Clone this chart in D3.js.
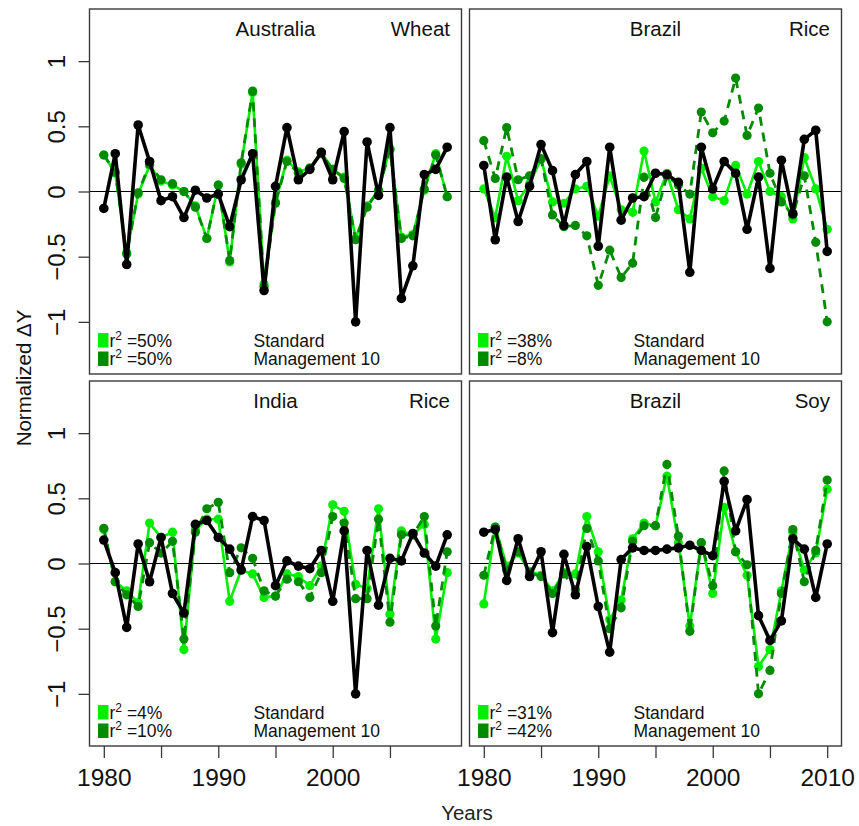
<!DOCTYPE html>
<html>
<head>
<meta charset="utf-8">
<script src="https://cdn.jsdelivr.net/npm/d3@7/dist/d3.min.js"></script>
<style>
  html, body { margin: 0; padding: 0; background: #fff; }
  svg { display: block; font-family: "Liberation Sans", Arial, sans-serif; }
</style>
</head>
<body>
<svg id="chart" width="859" height="826"></svg>
<script>
// Years covered by every series
const years = [1980, 1981, 1982, 1983, 1984, 1985, 1986, 1987, 1988, 1989,
               1990, 1991, 1992, 1993, 1994, 1995, 1996, 1997, 1998, 1999,
               2000, 2001, 2002, 2003, 2004, 2005, 2006, 2007, 2008, 2009, 2010];

// Australia – Wheat
const ausWheatObs  = [-0.13, 0.29, -0.56, 0.51, 0.23, -0.07, -0.04, -0.20, 0.01, -0.05, -0.02, -0.27, 0.09, 0.29, -0.76, 0.04, 0.49, 0.09, 0.17, 0.30, 0.09, 0.46, -1.00, 0.38, -0.03, 0.49, -0.82, -0.57, 0.13, 0.17, 0.34];
const ausWheatStd  = [0.28, 0.14, -0.47, -0.02, 0.20, 0.08, 0.05, 0.00, -0.11, -0.36, 0.05, -0.54, 0.21, 0.76, -0.71, -0.08, 0.24, 0.15, 0.18, 0.30, 0.17, 0.11, -0.36, -0.11, 0.01, 0.33, -0.35, -0.33, 0.01, 0.29, -0.04];
const ausWheatMgmt = [0.28, 0.15, -0.48, -0.01, 0.21, 0.09, 0.06, 0.00, -0.12, -0.36, 0.05, -0.53, 0.22, 0.77, -0.73, -0.09, 0.23, 0.14, 0.18, 0.29, 0.17, 0.10, -0.37, -0.12, 0.01, 0.32, -0.36, -0.34, 0.02, 0.28, -0.04];

// Brazil – Rice
const brRiceObs  = [0.20, -0.37, 0.11, -0.23, 0.04, 0.36, 0.16, -0.26, 0.13, 0.23, -0.42, 0.34, -0.22, -0.05, -0.04, 0.14, 0.13, 0.07, -0.62, 0.34, 0.02, 0.23, 0.14, -0.29, 0.11, -0.59, 0.24, -0.17, 0.40, 0.47, -0.46];
const brRiceStd  = [0.02, -0.20, 0.27, -0.07, 0.06, 0.25, -0.08, -0.09, 0.02, 0.04, -0.19, 0.12, -0.14, -0.16, 0.31, -0.08, 0.14, -0.14, -0.21, 0.18, -0.04, -0.07, 0.20, -0.02, 0.23, 0.00, -0.04, -0.21, 0.26, 0.02, -0.29];
const brRiceMgmt = [0.39, 0.10, 0.49, 0.09, 0.12, 0.25, -0.18, -0.27, -0.26, -0.34, -0.72, -0.45, -0.66, -0.55, 0.11, -0.20, 0.12, 0.05, -0.02, 0.61, 0.45, 0.54, 0.87, 0.43, 0.64, 0.14, -0.08, -0.18, 0.12, -0.39, -1.00];

// India – Rice
const inRiceObs  = [0.18, -0.07, -0.49, 0.15, -0.14, 0.20, -0.23, -0.38, 0.30, 0.33, 0.20, 0.11, -0.05, 0.36, 0.33, -0.17, 0.02, -0.02, -0.04, 0.10, -0.29, 0.25, -1.00, 0.10, -0.32, 0.04, 0.02, 0.23, 0.08, -0.02, 0.22];
const inRiceStd  = [0.26, -0.14, -0.21, -0.30, 0.31, 0.20, 0.24, -0.66, 0.26, 0.34, 0.34, -0.29, -0.05, -0.08, -0.26, -0.25, -0.08, -0.10, -0.17, -0.02, 0.45, 0.40, -0.16, -0.19, 0.42, -0.39, 0.25, 0.22, 0.30, -0.58, -0.07];
const inRiceMgmt = [0.27, -0.14, -0.24, -0.33, 0.16, 0.08, 0.17, -0.58, 0.24, 0.42, 0.47, -0.07, 0.12, 0.04, -0.21, -0.25, -0.12, -0.14, -0.26, -0.07, 0.36, 0.31, -0.27, -0.27, 0.34, -0.45, 0.22, 0.22, 0.36, -0.48, 0.09];

// Brazil – Soy
const brSoyObs  = [0.24, 0.26, -0.13, 0.19, -0.10, 0.09, -0.53, 0.07, -0.24, 0.13, -0.33, -0.68, 0.03, 0.12, 0.10, 0.10, 0.11, 0.12, 0.14, 0.10, 0.06, 0.63, 0.25, 0.49, -0.40, -0.59, -0.44, 0.19, 0.11, -0.26, 0.15];
const brSoyStd  = [-0.31, 0.28, -0.02, 0.08, -0.06, -0.09, -0.21, -0.07, -0.08, 0.36, 0.09, -0.43, -0.28, 0.19, 0.31, 0.29, 0.67, 0.16, -0.48, 0.16, -0.23, 0.43, 0.09, -0.09, -0.79, -0.66, -0.21, 0.24, -0.05, 0.08, 0.57];
const brSoyMgmt = [-0.09, 0.28, -0.05, 0.09, -0.07, -0.10, -0.23, -0.08, -0.20, 0.27, 0.02, -0.50, -0.34, 0.17, 0.29, 0.29, 0.76, 0.21, -0.52, 0.16, -0.17, 0.71, 0.09, -0.01, -1.00, -0.82, -0.23, 0.26, -0.14, 0.10, 0.64];

// Panel labels and fit statistics
const countries = ["Australia", "Brazil", "India", "Brazil"];
const crops     = ["Wheat", "Rice", "Rice", "Soy"];
const r2Std     = ["50%", "38%", "4%", "31%"];
const r2Mgmt    = ["50%", "8%", "10%", "42%"];
const seriesNames = ["Standard", "Management 10"];

// Axis ticks
const yTicks = [-1, -0.5, 0, 0.5, 1];
const xTicksLeft  = [1980, 1985, 1990, 1995, 2000, 2005];
const xTicksRight = [1980, 1985, 1990, 1995, 2000, 2005, 2010];
const xLabelYears = [1980, 1990, 2000, 2010];

const panels = [
  { obs: ausWheatObs, std: ausWheatStd, mgmt: ausWheatMgmt },
  { obs: brRiceObs,   std: brRiceStd,   mgmt: brRiceMgmt },
  { obs: inRiceObs,   std: inRiceStd,   mgmt: inRiceMgmt },
  { obs: brSoyObs,    std: brSoyStd,    mgmt: brSoyMgmt }
].map((p, i) => ({ ...p, country: countries[i], crop: crops[i], r2s: r2Std[i], r2m: r2Mgmt[i],
                   col: i % 2, row: Math.floor(i / 2) }));

const COL_LIGHT = "#00ee00";
const COL_DARK  = "#008b00";
const FONT = "'Liberation Sans', Arial, sans-serif";

const svg = d3.select("#chart");
svg.append("rect").attr("width", 859).attr("height", 826).attr("fill", "#fff");

const boxW = 372, boxH = 365;
const boxX = [89.5, 469.5];
const boxY = [9, 381];

const minus = s => String(s).replace("-", "\u2212");

panels.forEach(p => {
  const x0 = boxX[p.col], y0 = boxY[p.row];
  const x = d3.scaleLinear().domain([1978.75, 2011.25]).range([x0, x0 + boxW]);
  const y = d3.scaleLinear().domain([-1.4, 1.4]).range([y0 + boxH, y0]);
  const g = svg.append("g");

  // zero reference line
  g.append("line")
    .attr("x1", x0).attr("x2", x0 + boxW)
    .attr("y1", y(0)).attr("y2", y(0))
    .attr("stroke", "#000").attr("stroke-width", 1.1);

  const line = d3.line().x((d, i) => x(years[i])).y(d => y(d));

  const drawSeries = (vals, color, width, dash, r) => {
    g.append("path").datum(vals)
      .attr("d", line)
      .attr("fill", "none")
      .attr("stroke", color)
      .attr("stroke-width", width)
      .attr("stroke-linejoin", "round")
      .attr("stroke-dasharray", dash);
    g.selectAll(null).data(vals).enter().append("circle")
      .attr("cx", (d, i) => x(years[i]))
      .attr("cy", d => y(d))
      .attr("r", r)
      .attr("fill", color);
  };
  drawSeries(p.std, COL_LIGHT, 2.6, null, 4.6);
  drawSeries(p.mgmt, COL_DARK, 2.8, "9,7", 4.6);
  drawSeries(p.obs, "#000", 3.6, null, 4.8);

  // frame
  g.append("rect")
    .attr("x", x0).attr("y", y0).attr("width", boxW).attr("height", boxH)
    .attr("fill", "none").attr("stroke", "#3a3a3a").attr("stroke-width", 1.4);

  // titles
  g.append("text")
    .attr("x", x0 + boxW / 2).attr("y", y0 + 27)
    .attr("text-anchor", "middle")
    .attr("font-family", FONT).attr("font-size", 20.5).attr("fill", "#111")
    .text(p.country);
  g.append("text")
    .attr("x", x0 + boxW - 11.5).attr("y", y0 + 27)
    .attr("text-anchor", "end")
    .attr("font-family", FONT).attr("font-size", 20.5).attr("fill", "#111")
    .text(p.crop);

  // legend
  const legRows = [{ c: COL_LIGHT, v: p.r2s, n: seriesNames[0] },
                   { c: COL_DARK,  v: p.r2m, n: seriesNames[1] }];
  legRows.forEach((L, k) => {
    const by = y0 + 337.5 + k * 18.5;
    g.append("rect")
      .attr("x", x0 + 8.5).attr("y", by - 13.5)
      .attr("width", 10.5).attr("height", 14.5)
      .attr("fill", L.c);
    const t = g.append("text")
      .attr("x", x0 + 20).attr("y", by)
      .attr("font-family", FONT).attr("font-size", 17.5).attr("fill", "#111");
    t.append("tspan").text("r");
    t.append("tspan").attr("font-size", 12).attr("dy", -7).text("2");
    t.append("tspan").attr("dy", 7).text(" =" + L.v);
    g.append("text")
      .attr("x", x0 + 164).attr("y", by)
      .attr("font-family", FONT).attr("font-size", 17.5).attr("fill", "#111")
      .text(L.n);
  });

  // y axis on the left column
  if (p.col === 0) {
    const ya = g.append("g").attr("transform", `translate(${x0},0)`)
      .call(d3.axisLeft(y).tickValues(yTicks).tickSize(11).tickFormat(d => minus(d)));
    ya.select(".domain").remove();
    ya.selectAll(".tick line").attr("stroke", "#3a3a3a").attr("stroke-width", 1.3);
    ya.selectAll(".tick text")
      .attr("font-family", FONT).attr("font-size", 24).attr("fill", "#111")
      .attr("text-anchor", "middle")
      .attr("dy", 0)
      .attr("x", 0).attr("y", 0)
      .attr("transform", "translate(-24.5,0) rotate(-90)");
  }

  // x axis on the bottom row
  if (p.row === 1) {
    const ticks = p.col === 0 ? xTicksLeft : xTicksRight;
    const xa = g.append("g").attr("transform", `translate(0,${y0 + boxH})`)
      .call(d3.axisBottom(x).tickValues(ticks).tickSize(12)
        .tickFormat(d => xLabelYears.includes(d) ? String(d) : ""));
    xa.select(".domain").remove();
    xa.selectAll(".tick line").attr("stroke", "#3a3a3a").attr("stroke-width", 1.3);
    xa.selectAll(".tick text")
      .attr("font-family", FONT).attr("font-size", 24.5).attr("fill", "#111")
      .attr("y", 40).attr("dy", 0);
  }
});

// axis titles
svg.append("text")
  .attr("x", 467).attr("y", 820)
  .attr("text-anchor", "middle")
  .attr("font-family", FONT).attr("font-size", 20.5).attr("fill", "#222")
  .text("Years");
svg.append("text")
  .attr("transform", "translate(31,378) rotate(-90)")
  .attr("text-anchor", "middle")
  .attr("font-family", FONT).attr("font-size", 20.5).attr("fill", "#111")
  .text("Normalized \u0394Y");
</script>
</body>
</html>
